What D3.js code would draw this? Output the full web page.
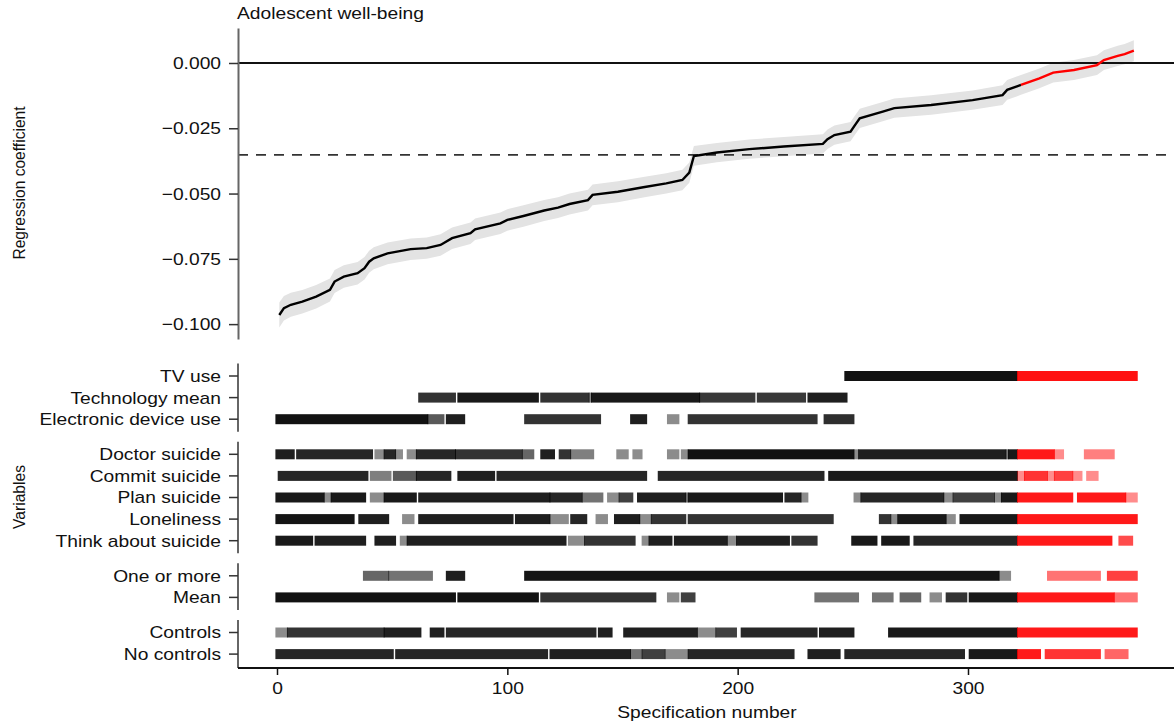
<!DOCTYPE html>
<html><head><meta charset="utf-8">
<script src="https://cdn.jsdelivr.net/npm/d3@7"></script>
<style>
html,body{margin:0;padding:0;background:#fff;}
svg{display:block;font-family:"Liberation Sans",Arial,Helvetica,sans-serif;}
</style></head><body>
<svg id="chart" width="1174" height="726"></svg>
<script>
// ---------------- data ----------------
const chartTitle = "Adolescent well-being";
const coefAxisTitle = "Regression coefficient";
const specAxisTitle = "Specification number";
const variablesAxisTitle = "Variables";
const coefTicks = [0, -0.025, -0.05, -0.075, -0.1];
const specTicks = [0, 100, 200, 300];
const coefDomain = [-0.1057, 0.0134];
const significantFrom = 322;      // specifications drawn in red
const medianCoef = -0.0352;       // dashed reference line

const curveSpecs = [1,3,6,11,17,23,25,29,35,38,40,42,48,58,65,71,76,84,86,97,100,107,116,122,127,135,137,148,159,169,176,179,181,191,205,220,237,239,242,249,251,253,263,268,284,302,315,317,323,331,337,346,356,359,365,368,372];
const curveCoefs = [-0.0965,-0.0939,-0.0926,-0.0914,-0.0895,-0.0869,-0.0837,-0.0818,-0.0805,-0.0786,-0.0761,-0.0748,-0.0729,-0.0713,-0.0709,-0.0697,-0.0671,-0.0652,-0.0637,-0.0614,-0.0601,-0.0586,-0.0565,-0.0554,-0.0540,-0.0525,-0.0505,-0.0493,-0.0476,-0.0461,-0.0448,-0.0420,-0.0356,-0.0343,-0.0330,-0.0320,-0.0310,-0.0292,-0.0276,-0.0263,-0.0237,-0.0212,-0.0186,-0.0173,-0.0161,-0.0142,-0.0123,-0.0103,-0.0084,-0.0059,-0.0037,-0.0027,-0.0008,0.0011,0.0027,0.0034,0.0047];
const curveCiHalf = [0.0048,0.0047,0.0046,0.0045,0.0045,0.0044,0.0044,0.0043,0.0043,0.0043,0.0042,0.0042,0.0042,0.0041,0.0041,0.0041,0.0041,0.0041,0.0041,0.0041,0.0041,0.0041,0.0040,0.0040,0.0040,0.0040,0.0040,0.0040,0.0039,0.0039,0.0039,0.0039,0.0038,0.0037,0.0037,0.0037,0.0037,0.0037,0.0037,0.0037,0.0037,0.0037,0.0037,0.0037,0.0037,0.0037,0.0038,0.0038,0.0038,0.0038,0.0038,0.0038,0.0038,0.0038,0.0039,0.0039,0.0040];

const variableNames = ["TV use","Technology mean","Electronic device use","Doctor suicide","Commit suicide","Plan suicide","Loneliness","Think about suicide","One or more","Mean","Controls","No controls"];
const variableGroups = [0,0,0,1,1,1,1,1,2,2,3,3];

// [first spec, last spec, shade]
const segTVUse = [[247,373,0.93]];
const segTechMean = [[62,77,0.8],[79,113,0.9],[115,135,0.8],[136,136,0.45],[137,183,0.9],[184,207,0.78],[209,229,0.78],[231,247,0.88]];
const segElectronic = [[0,65,0.93],[66,72,0.65],[74,81,0.88],[108,140,0.8],[154,160,0.88],[170,174,0.45],[179,234,0.8],[238,250,0.82]];
const segDoctor = [[0,7,0.88],[9,41,0.85],[43,46,0.45],[47,51,0.85],[52,54,0.45],[57,60,0.45],[61,77,0.85],[78,106,0.8],[107,111,0.6],[115,120,0.88],[123,127,0.8],[128,137,0.5],[148,152,0.45],[155,158,0.45],[170,174,0.45],[176,178,0.45],[179,250,0.93],[251,252,0.45],[253,316,0.88],[317,317,0.45],[318,337,0.9],[338,341,0.45],[351,363,0.5]];
const segCommit = [[1,39,0.85],[41,49,0.5],[51,60,0.65],[61,75,0.85],[79,94,0.88],[96,160,0.85],[166,237,0.85],[240,321,0.9],[322,324,0.45],[325,334,0.8],[335,337,0.45],[338,345,0.75],[346,349,0.45],[352,356,0.45]];
const segPlan = [[0,20,0.9],[21,23,0.45],[24,38,0.9],[41,46,0.45],[47,60,0.9],[62,118,0.88],[119,132,0.85],[133,141,0.55],[144,148,0.45],[149,154,0.75],[157,177,0.88],[178,178,0.45],[179,219,0.9],[221,227,0.85],[228,230,0.45],[251,253,0.45],[254,289,0.85],[290,293,0.45],[294,311,0.75],[312,314,0.45],[315,345,0.9],[348,368,0.9],[369,373,0.45]];
const segLoneliness = [[0,33,0.92],[36,48,0.88],[55,59,0.45],[62,102,0.88],[104,118,0.88],[119,126,0.45],[128,134,0.85],[139,143,0.45],[147,157,0.88],[158,162,0.45],[163,177,0.8],[179,241,0.8],[262,266,0.8],[267,269,0.45],[270,290,0.9],[291,294,0.45],[297,373,0.9]];
const segThink = [[0,15,0.9],[17,38,0.88],[43,51,0.88],[54,56,0.45],[57,125,0.88],[127,133,0.45],[134,155,0.8],[159,161,0.45],[162,171,0.88],[173,195,0.88],[196,199,0.45],[200,222,0.88],[224,234,0.8],[250,260,0.9],[263,274,0.9],[277,321,0.85],[322,362,0.9],[366,371,0.7]];
const segOneOrMore = [[38,48,0.6],[49,67,0.55],[74,81,0.88],[108,313,0.92],[314,318,0.45],[335,357,0.55],[361,373,0.75]];
const segMean = [[0,77,0.93],[79,113,0.93],[115,164,0.8],[170,174,0.45],[176,181,0.75],[234,252,0.55],[259,267,0.55],[271,279,0.6],[284,288,0.45],[291,299,0.8],[301,363,0.9],[364,373,0.55]];
const segControls = [[0,4,0.45],[5,46,0.8],[47,62,0.88],[67,72,0.88],[74,138,0.85],[140,145,0.88],[151,182,0.88],[183,190,0.45],[191,199,0.75],[202,234,0.85],[236,250,0.88],[266,373,0.9]];
const segNoControls = [[0,50,0.85],[52,117,0.85],[119,153,0.88],[154,158,0.55],[159,168,0.75],[169,178,0.45],[179,224,0.85],[231,244,0.88],[247,298,0.85],[301,331,0.9],[334,357,0.8],[360,369,0.6]];
const variableSegments = [segTVUse,segTechMean,segElectronic,segDoctor,segCommit,segPlan,segLoneliness,segThink,segOneOrMore,segMean,segControls,segNoControls];

// ---------------- drawing ----------------
const svg = d3.select("#chart");
const STRETCH = 1.13;
const FS = 17;
function stretch(sel){
  sel.each(function(){
    const L = this.getComputedTextLength();
    this.setAttribute("textLength", L*STRETCH);
    this.setAttribute("lengthAdjust","spacingAndGlyphs");
  });
}

const axisX = 238;
const x = d3.scaleLinear().domain([0,300]).range([277,968]);
const y = d3.scaleLinear().domain(coefDomain).range([339,28]);
const groupGap = 0.625;
const slot = variableNames.map((d,i)=> i + variableGroups[i]*groupGap);
const rowY = d3.scaleLinear().domain([0, 11 + 3*groupGap]).range([376, 376 + (11+3*groupGap)*21.6]);

// ---- top panel ----
const pts = curveSpecs.map((s,i)=>({s, c: curveCoefs[i], h: curveCiHalf[i]}));
svg.append("path")
  .datum(pts)
  .attr("fill","#e3e3e3")
  .attr("d", d3.area().x(d=>x(d.s)).y0(d=>y(d.c-d.h)).y1(d=>y(d.c+d.h)));

svg.append("line").attr("x1",axisX).attr("x2",1174).attr("y1",y(0)).attr("y2",y(0))
  .attr("stroke","#111").attr("stroke-width",2);
svg.append("line").attr("x1",axisX).attr("x2",1174).attr("y1",y(medianCoef)).attr("y2",y(medianCoef))
  .attr("stroke","#333").attr("stroke-width",1.6).attr("stroke-dasharray","10,8");

const line = d3.line().x(d=>x(d.s)).y(d=>y(d.c));
const blackPts = pts.filter(d=>d.s <= significantFrom+1);
const redPts = pts.filter(d=>d.s >= significantFrom);
svg.append("path").datum(blackPts).attr("fill","none").attr("stroke","#000").attr("stroke-width",2.4).attr("d",line);
svg.append("path").datum(redPts).attr("fill","none").attr("stroke","#ff0000").attr("stroke-width",2.4).attr("d",line);

const yAx = svg.append("g").attr("transform",`translate(${axisX},0)`)
  .call(d3.axisLeft(y).tickValues(coefTicks).tickFormat(d3.format(".3f")).tickSize(9).tickPadding(8).tickSizeOuter(0));
yAx.select(".domain").attr("stroke","#666").attr("stroke-width",2);
yAx.selectAll(".tick line").attr("stroke","#333").attr("stroke-width",1.5);
yAx.selectAll("text").attr("font-size",FS).attr("font-family","Liberation Sans, Arial, sans-serif").attr("fill","#111").call(stretch);

svg.append("text").attr("x",237).attr("y",19).attr("font-size",FS).attr("fill","#111").text(chartTitle).call(stretch);
svg.append("text").attr("transform","translate(25,183) rotate(-90)").attr("text-anchor","middle")
  .attr("font-size",15.6).attr("fill","#111").text(coefAxisTitle);

// ---- bottom panel ----
const filt = svg.append("defs").append("filter").attr("id","soft").attr("x","-5%").attr("y","-50%").attr("width","110%").attr("height","200%");
filt.append("feGaussianBlur").attr("stdDeviation",0.6);

const tickW = 3.2, tickH = 10;
const marks = svg.append("g").attr("filter","url(#soft)");
variableSegments.forEach((segs,ri)=>{
  const yy = rowY(slot[ri]);
  // split each segment at the significance boundary so colour follows the spec number
  const pieces = [];
  segs.forEach(([a,b,o])=>{
    if (a < significantFrom && b >= significantFrom){
      pieces.push([a, significantFrom-1, o, "#000"]);
      pieces.push([significantFrom, b, o, "#ff0000"]);
    } else pieces.push([a, b, o, a>=significantFrom ? "#ff0000" : "#000"]);
  });
  marks.selectAll(null).data(pieces).join("rect")
    .attr("x",d=>x(d[0])-tickW/2)
    .attr("width",d=>x(d[1])-x(d[0])+tickW)
    .attr("y",yy-tickH/2).attr("height",tickH)
    .attr("fill",d=>d[3])
    .attr("fill-opacity",d=>d[2]);
});

const groups = d3.groups(variableNames.map((n,i)=>({n,i,g:variableGroups[i]})), d=>d.g);
groups.forEach(([g,rows],gi)=>{
  const y0 = rowY(slot[rows[0].i]) - 12.5;
  const y1 = gi===groups.length-1 ? 668 : rowY(slot[rows[rows.length-1].i]) + 12.5;
  svg.append("line").attr("x1",axisX).attr("x2",axisX).attr("y1",y0).attr("y2",y1)
    .attr("stroke","#666").attr("stroke-width",2);
});
variableNames.forEach((n,i)=>{
  const yy = rowY(slot[i]);
  svg.append("line").attr("x1",axisX-9).attr("x2",axisX).attr("y1",yy).attr("y2",yy)
    .attr("stroke","#333").attr("stroke-width",1.5);
  svg.append("text").attr("x",axisX-17).attr("y",yy).attr("dy","0.35em").attr("text-anchor","end")
    .attr("font-size",FS).attr("fill","#111").text(n).call(stretch);
});

const xAx = svg.append("g").attr("transform","translate(0,668)")
  .call(d3.axisBottom(x).tickValues(specTicks).tickFormat(d3.format("d")).tickSize(7).tickPadding(7).tickSizeOuter(0));
xAx.select(".domain").remove();
svg.append("line").attr("x1",axisX).attr("x2",1174).attr("y1",668).attr("y2",668).attr("stroke","#111").attr("stroke-width",2);
xAx.selectAll(".tick line").attr("stroke","#111").attr("stroke-width",1.5);
xAx.selectAll("text").attr("font-size",FS).attr("font-family","Liberation Sans, Arial, sans-serif").attr("fill","#111").call(stretch);

svg.append("text").attr("x",707).attr("y",718).attr("text-anchor","middle").attr("font-size",FS).attr("fill","#111").text(specAxisTitle).call(stretch);
svg.append("text").attr("transform","translate(25,497) rotate(-90)").attr("text-anchor","middle")
  .attr("font-size",15.6).attr("fill","#111").text(variablesAxisTitle);
</script>
</body></html>
